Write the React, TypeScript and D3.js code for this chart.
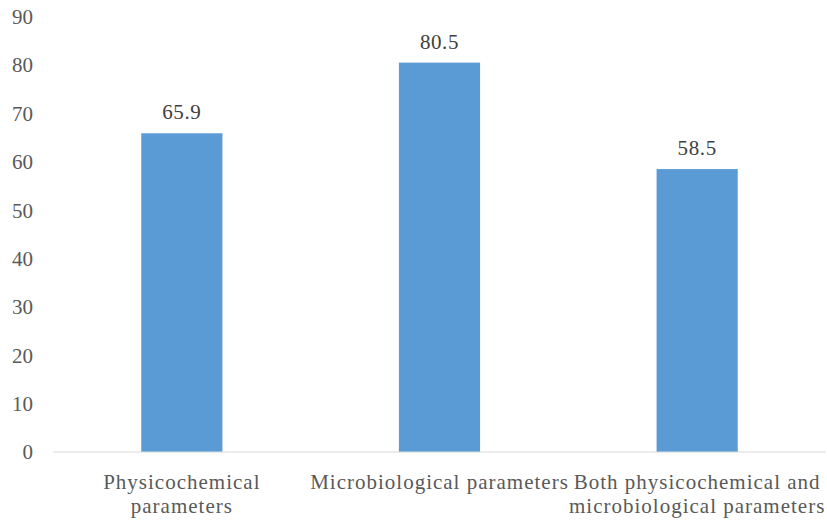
import React from "react";
import * as d3 from "d3";

const categories: string[][] = [
  ["Physicochemical", "parameters"],
  ["Microbiological parameters"],
  ["Both physicochemical and", "microbiological parameters"],
];
const values: number[] = [65.9, 80.5, 58.5];
const yTicks: number[] = [0, 10, 20, 30, 40, 50, 60, 70, 80, 90];

export default function App() {
  const W = 827, H = 522;
  const left = 53, right = 826, top = 16.7, bottom = 452;
  const x = d3.scaleBand<number>().domain(values.map((_, i) => i)).range([left, right]).paddingInner(0.685).paddingOuter(0.3425);
  const y = d3.scaleLinear().domain([0, 90]).range([bottom, top]);
  const font = "Liberation Serif, DejaVu Serif, serif";
  return (
    <svg width={W} height={H} style={{ position: "absolute", left: 0, top: 0, fontFamily: font }}>
      <rect width={W} height={H} fill="#fff" />
      {yTicks.map((t) => (
        <text key={t} x={33} y={y(t)} dy="0.35em" textAnchor="end" fontSize={21} fill="#595959">{t}</text>
      ))}
      {values.map((v, i) => (
        <g key={i}>
          <rect x={x(i)} y={y(v)} width={x.bandwidth()} height={bottom - y(v)} fill="#5b9bd5" />
          <text x={(x(i) as number) + x.bandwidth() / 2} y={y(v) - 14} textAnchor="middle" fontSize={21} letterSpacing={0.6} fill="#404040">{v.toFixed(1)}</text>
        </g>
      ))}
      <line x1={left} x2={right} y1={bottom} y2={bottom} stroke="#d9d9d9" strokeWidth={1} />
      {categories.map((lines, i) => (
        <text key={i} textAnchor="middle" fontSize={21} letterSpacing={1} fill="#595959">
          {lines.map((l, j) => (
            <tspan key={j} x={(x(i) as number) + x.bandwidth() / 2} y={489 + j * 24}>{l}</tspan>
          ))}
        </text>
      ))}
    </svg>
  );
}
